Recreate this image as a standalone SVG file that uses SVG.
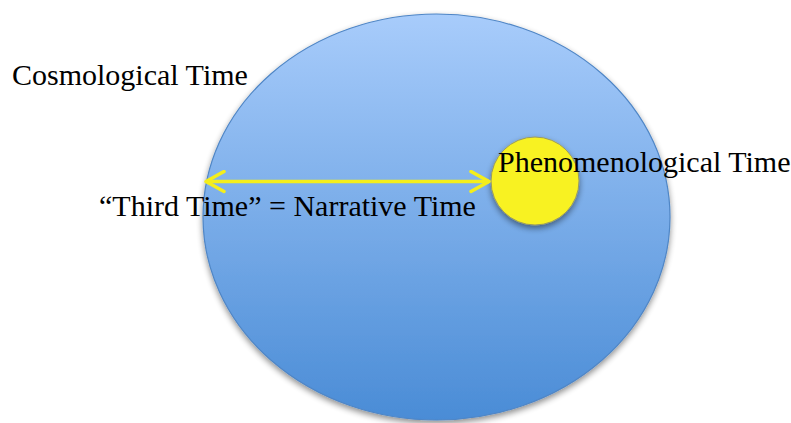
<svg xmlns="http://www.w3.org/2000/svg" width="791" height="423" viewBox="0 0 791 423">
<defs>
<linearGradient id="blueGrad" x1="0" y1="0" x2="0" y2="1">
<stop offset="0" stop-color="#a8ccfb"/>
<stop offset="1" stop-color="#4a8cd6"/>
</linearGradient>
<filter id="shadow" x="-10%" y="-10%" width="120%" height="125%">
<feGaussianBlur in="SourceAlpha" stdDeviation="3"/>
<feOffset dx="0" dy="3" result="b"/>
<feComponentTransfer><feFuncA type="linear" slope="0.45"/></feComponentTransfer>
<feMerge><feMergeNode/><feMergeNode in="SourceGraphic"/></feMerge>
</filter>
<marker id="chev" viewBox="0 0 22 24" refX="20" refY="12" markerWidth="22" markerHeight="24" markerUnits="userSpaceOnUse" orient="auto-start-reverse">
<path d="M2,2 L20,12 L2,22" fill="none" stroke="#f4ee1c" stroke-width="3.5" stroke-linecap="round" stroke-linejoin="round"/>
</marker>
</defs>
<style>
text{font-family:"Liberation Serif","Times New Roman",serif;font-size:30px;fill:#000}
</style>
<rect width="791" height="423" fill="#fff"/>
<g id="cosmological">
<ellipse cx="436.5" cy="217" rx="233.5" ry="203" fill="url(#blueGrad)" stroke="#4f86c6" stroke-width="1.2" filter="url(#shadow)"/>
<text x="12" y="85">Cosmological Time</text>
</g>
<g id="phenomenological">
<circle cx="535" cy="181" r="44" fill="#f8f221" stroke="#9a9a60" stroke-width="1" filter="url(#shadow)"/>
<text x="498" y="172">Phenomenological Time</text>
</g>
<g id="connectors">
<line x1="206" y1="181.5" x2="489" y2="181.5" stroke="#f4ee1c" stroke-width="3.5" marker-start="url(#chev)" marker-end="url(#chev)"/>
<text x="99" y="216">“Third Time” = Narrative Time</text>
</g>
</svg>
